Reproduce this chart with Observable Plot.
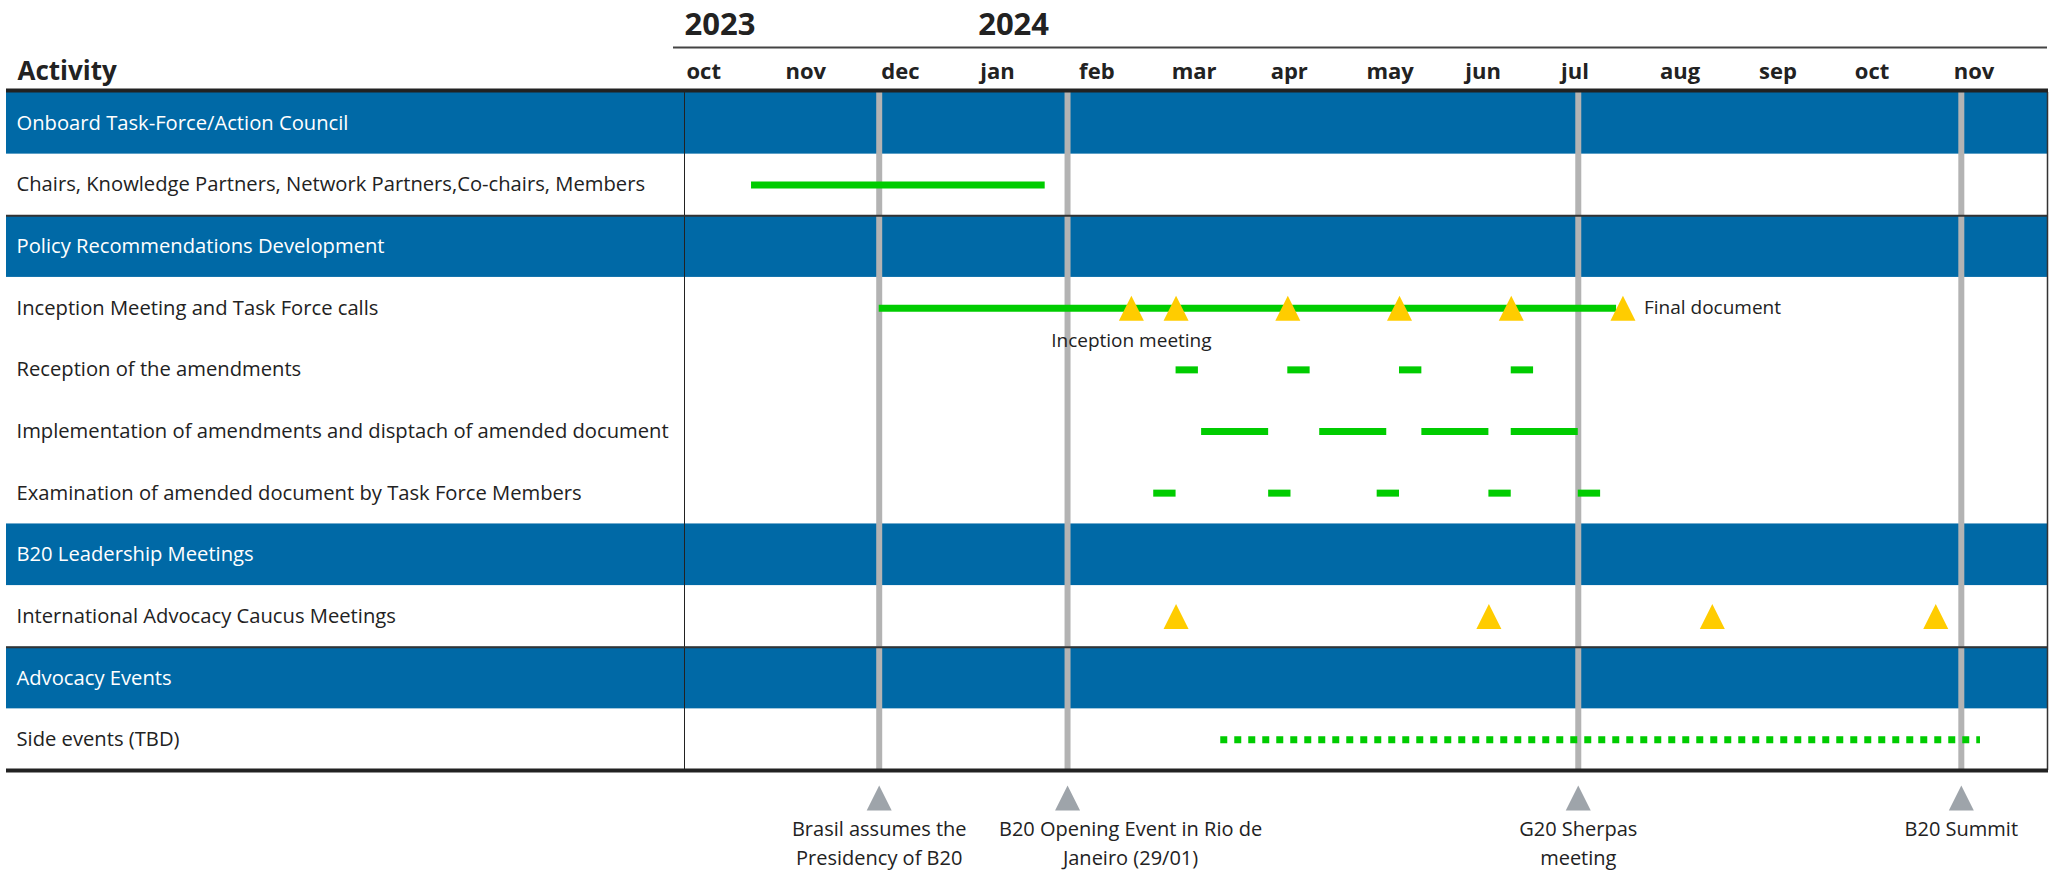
<!DOCTYPE html>
<html>
<head>
<meta charset="utf-8">
<script src="https://cdn.jsdelivr.net/npm/d3@7"></script>
<script src="https://cdn.jsdelivr.net/npm/@observablehq/plot@0.6"></script>
<style>
  html, body { margin: 0; padding: 0; background: #fff; }
  #chart svg { display: block; }
</style>
</head>
<body>
<div id="chart"></div>
<script>
// ---------------- DATA ----------------
const groupNames = [
  "Onboard Task-Force/Action Council",
  "Policy Recommendations Development",
  "B20 Leadership Meetings",
  "Advocacy Events"
];
const taskNames = [
  "Chairs, Knowledge Partners, Network Partners,Co-chairs, Members",
  "Inception Meeting and Task Force calls",
  "Reception of the amendments",
  "Implementation of amendments and disptach of amended document",
  "Examination of amended document by Task Force Members",
  "International Advocacy Caucus Meetings",
  "Side events (TBD)"
];
const taskGroup = [0, 1, 1, 1, 1, 2, 3];

const monthLabels = ["oct", "nov", "dec", "jan", "feb", "mar", "apr", "may", "jun", "jul", "aug", "sep", "oct", "nov"];
const monthStarts = ["2023-10-01", "2023-11-01", "2023-12-01", "2024-01-01", "2024-02-01", "2024-03-01", "2024-04-01",
                     "2024-05-01", "2024-06-01", "2024-07-01", "2024-08-01", "2024-09-01", "2024-10-01", "2024-11-01"];
const timelineEnd = "2024-12-01";
const yearLabels = ["2023", "2024"];
const yearStarts = ["2023-10-01", "2024-01-01"];

// solid green bars (task index, start, end)
const barTask  = [0, 1, 2, 2, 2, 2, 3, 3, 3, 3, 4, 4, 4, 4, 4];
const barStart = ["2023-10-22", "2023-12-01",
                  "2024-03-03", "2024-04-07", "2024-05-12", "2024-06-16",
                  "2024-03-11", "2024-04-17", "2024-05-19", "2024-06-16",
                  "2024-02-25", "2024-04-01", "2024-05-05", "2024-06-09", "2024-07-07"];
const barEnd   = ["2024-01-22", "2024-07-19",
                  "2024-03-10", "2024-04-14", "2024-05-19", "2024-06-23",
                  "2024-04-01", "2024-05-08", "2024-06-09", "2024-07-07",
                  "2024-03-03", "2024-04-08", "2024-05-12", "2024-06-16", "2024-07-14"];

// dotted bar
const dottedTask  = [6];
const dottedStart = ["2024-03-17"];
const dottedEnd   = ["2024-11-10"];

// milestones (yellow triangles)
const milestoneTask = [1, 1, 1, 1, 1, 1, 5, 5, 5, 5];
const milestoneDate = ["2024-02-18", "2024-03-03", "2024-04-07", "2024-05-12", "2024-06-16", "2024-07-21",
                       "2024-03-03", "2024-06-09", "2024-08-18", "2024-10-27"];

// milestone notes
const noteText = ["Inception meeting", "Final document"];
const noteTask = [1, 1];
const noteDate = ["2024-02-18", "2024-07-21"];

// key events (gray lines + bottom markers)
const eventLabels = ["Brasil assumes the\nPresidency of B20", "B20 Opening Event in Rio de\nJaneiro (29/01)", "G20 Sherpas\nmeeting", "B20 Summit"];
const eventDates  = ["2023-12-01", "2024-01-29", "2024-07-07", "2024-11-04"];

// ---------------- LAYOUT / STYLE ----------------
const W = 2058, H = 873, mL = 684, mR = 11, mT = 92, mB = 103;
const LABEL_X = 16, TABLE_LEFT = 6;
const blue = "#0069a6", green = "#00cc00", gold = "#ffcc00", lineGray = "#b3b3b3", markerGray = "#9ea4aa", ink = "#222";
const font = "'Open Sans', 'DejaVu Sans', sans-serif";
const darkTopGroups = [1, 3];          // groups with a dark rule above their band
const eventLabelDx = [0, 63, 0, 0];    // horizontal nudge of bottom labels

const parse = d3.utcParse("%Y-%m-%d");

const rows = [];
groupNames.forEach((g, gi) => {
  rows.push({name: g, group: true});
  taskNames.forEach((t, ti) => { if (taskGroup[ti] === gi) rows.push({name: t, group: false}); });
});
const rowNames = rows.map(r => r.name);
const bw = (H - mT - mB) / rows.length;
const xDomain = [parse(monthStarts[0]), parse(timelineEnd)];

const bars = barTask.map((t, i) => ({task: taskNames[t], start: parse(barStart[i]), end: parse(barEnd[i])}));
const dotted = dottedTask.map((t, i) => ({task: taskNames[t], start: parse(dottedStart[i]), end: parse(dottedEnd[i])}));
const milestones = milestoneTask.map((t, i) => ({task: taskNames[t], date: parse(milestoneDate[i])}));
const notes = noteText.map((s, i) => ({label: s, task: taskNames[noteTask[i]], date: parse(noteDate[i])}));
const events = eventLabels.map((s, i) => ({label: s, date: parse(eventDates[i]), dx: eventLabelDx[i]}));
const years = yearLabels.map((s, i) => ({label: s, date: parse(yearStarts[i])}));
const monthDates = monthStarts.map(parse);
const monthMap = new Map(monthDates.map((d, i) => [+d, monthLabels[i]]));

const triangle = {
  draw(ctx, size) {
    const r = Math.sqrt(size / Math.PI);
    ctx.moveTo(0, -r); ctx.lineTo(r, r); ctx.lineTo(-r, r); ctx.closePath();
  }
};

const eventTextMarks = [...new Set(events.map(e => e.dx))].map(dx =>
  Plot.text(events.filter(e => e.dx === dx), {
    x: "date", text: "label", frameAnchor: "bottom", dy: 45, dx,
    lineAnchor: "top", lineHeight: 1.45, textAnchor: "middle", fontSize: 20, fill: ink
  })
);

const plot = Plot.plot({
  width: W, height: H,
  marginLeft: mL, marginRight: mR, marginTop: mT, marginBottom: mB,
  style: {fontFamily: font, fontSize: "20px", color: ink, background: "#fff", overflow: "visible"},
  x: {type: "utc", domain: xDomain},
  y: {type: "band", domain: rowNames, padding: 0, round: false, axis: null},
  marks: [
    // group bands
    Plot.barX(rows.filter(r => r.group), {
      y: "name", x1: () => xDomain[0], x2: () => xDomain[1],
      fill: blue, insetLeft: TABLE_LEFT - mL
    }),
    // key event lines
    Plot.ruleX(events, {x: "date", stroke: lineGray, strokeWidth: 6}),
    // column divider and right border
    Plot.ruleX([xDomain[0]], {stroke: "#222", strokeWidth: 1}),
    Plot.ruleX([xDomain[1]], {stroke: "#333", strokeWidth: 1.5}),
    // header rule, group separators, bottom rule
    Plot.ruleY([rowNames[0]], {dy: -bw / 2 - 2, stroke: "#222", strokeWidth: 4, insetLeft: TABLE_LEFT - mL, insetRight: -1}),
    Plot.ruleY(darkTopGroups.map(g => groupNames[g]), {dy: -bw / 2, stroke: "#333", strokeWidth: 2, insetLeft: TABLE_LEFT - mL, insetRight: -1}),
    Plot.ruleY([rowNames[rowNames.length - 1]], {dy: bw / 2, stroke: "#222", strokeWidth: 4, insetLeft: TABLE_LEFT - mL, insetRight: -1}),
    // green bars
    Plot.ruleY(bars, {y: "task", x1: "start", x2: "end", stroke: green, strokeWidth: 7}),
    Plot.ruleY(dotted, {y: "task", x1: "start", x2: "end", stroke: green, strokeWidth: 7, strokeDasharray: "7,7"}),
    // milestones
    Plot.dot(milestones, {x: "date", y: "task", symbol: triangle, r: 12.5, fill: gold}),
    // notes
    Plot.text(notes.slice(0, 1), {x: "date", y: "task", text: "label", dy: 33, textAnchor: "middle", fontSize: 19, fill: ink}),
    Plot.text(notes.slice(1), {x: "date", y: "task", text: "label", dx: 21, textAnchor: "start", fontSize: 19, fill: ink}),
    // row labels
    Plot.text(rows, {
      y: "name", text: "name", frameAnchor: "left", textAnchor: "start",
      dx: LABEL_X - mL, fontSize: 20.2, fill: d => d.group ? "#fff" : ink
    }),
    // month axis
    Plot.axisX({
      anchor: "top", ticks: monthDates, tickFormat: d => monthMap.get(+d),
      tickSize: 0, tickPadding: 14, textAnchor: "start", dx: 2,
      fontSize: 22, fontWeight: "bold", label: null
    }),
    // years
    Plot.text(years, {
      x: "date", text: "label", frameAnchor: "top", dy: 34 - mT, dx: 0,
      lineAnchor: "bottom", textAnchor: "start", fontSize: 31, fontWeight: "bold"
    }),
    Plot.ruleY([0], {y: null, dy: 47 - (mT + H - mB) / 2, stroke: "#444", strokeWidth: 2, insetLeft: -11}),
    // "Activity" header
    Plot.text(["Activity"], {
      text: d => d, frameAnchor: "top-left", dx: LABEL_X - mL + 1, dy: -13,
      lineAnchor: "bottom", textAnchor: "start", fontSize: 26, fontWeight: "bold"
    }),
    // bottom key event markers
    Plot.dot(events, {x: "date", frameAnchor: "bottom", dy: 27.5, symbol: triangle, r: 12.5, fill: markerGray}),
    ...eventTextMarks
  ]
});

document.getElementById("chart").appendChild(plot);
</script>
</body>
</html>
